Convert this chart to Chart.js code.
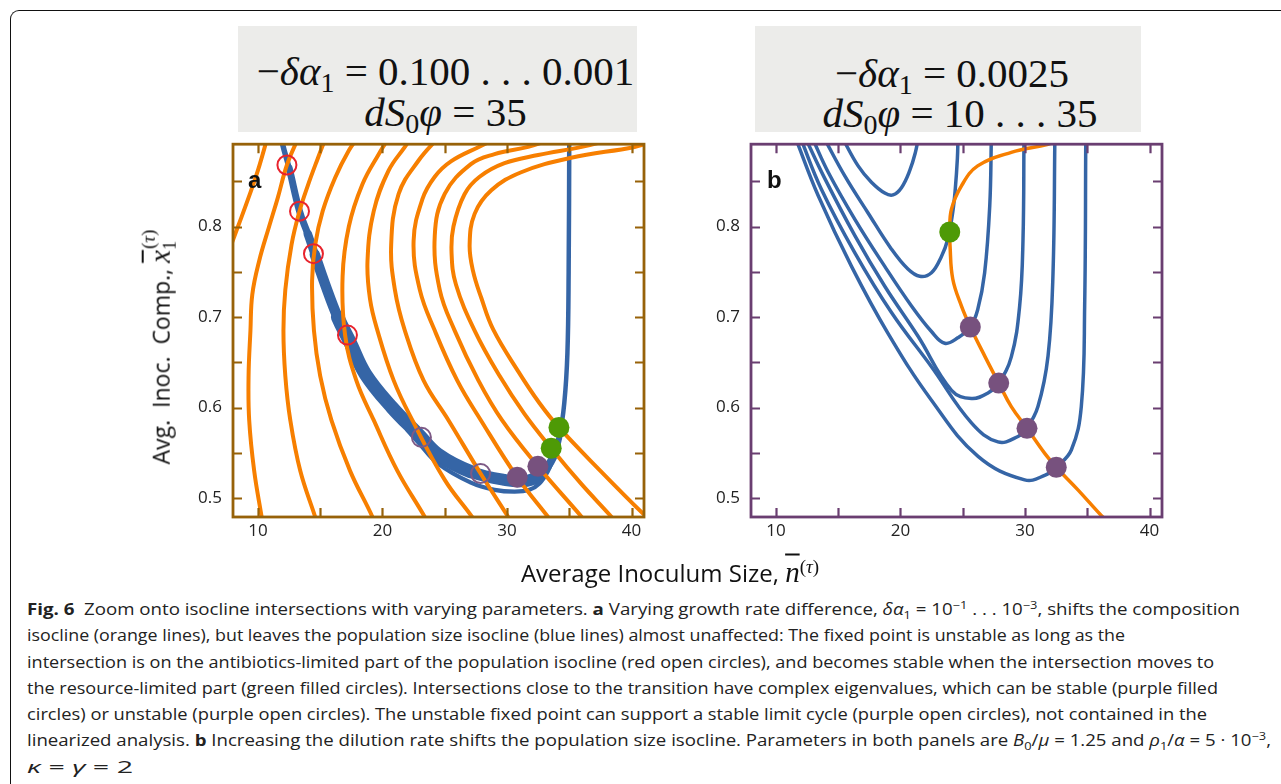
<!DOCTYPE html>
<html>
<head>
<meta charset="utf-8">
<script src="https://cdn.jsdelivr.net/npm/chart.js@4.4.1/dist/chart.umd.min.js"></script>
<style>
  html,body{margin:0;padding:0;background:#fff;}
  body{width:1281px;height:784px;position:relative;overflow:hidden;}
  .outer{position:absolute;left:10px;top:10px;width:1300px;height:800px;border-left:1.3px solid #111;border-top:1.3px solid #111;border-top-left-radius:9px;}
  .tbox{position:absolute;background:#ececea;font-family:"Liberation Serif","DejaVu Serif",serif;color:#111;text-align:center;}
  .tline{position:absolute;left:0;right:0;font-size:41px;line-height:42px;white-space:nowrap;}
  .tline sub{font-size:28px;vertical-align:-7px;line-height:0;}
  .cv{position:absolute;}
  .plab{position:absolute;font-family:"Liberation Sans",Arial,sans-serif;font-weight:bold;font-size:24px;color:#111;}
  .axt{position:absolute;font-family:"Open Sans","Noto Sans",sans-serif;font-size:24px;color:#111;white-space:nowrap;}
  .axt .m{font-family:"Liberation Serif",serif;font-style:italic;font-size:29px;}
  .axt sup{font-family:"Liberation Serif",serif;font-size:19px;}
  .axt sub{font-family:"Liberation Serif",serif;font-size:18px;}
  .cap{position:absolute;left:27px;top:596px;font-family:"Open Sans","Noto Sans",sans-serif;font-size:16px;color:#222;}
  .cap div{height:26.3px;line-height:26.3px;white-space:nowrap;transform-origin:0 50%;}
  .cap sup{font-size:11px;line-height:0;}
  .cap sub{font-size:11px;line-height:0;}
</style>
</head>
<body>
<div class="outer"></div>

<div class="tbox" style="left:238px;top:26px;width:399px;height:106px;">
  <div class="tline" style="top:52px;transform:translate(8px,-50%) translateY(-7px)">−<i>δα</i><sub>1</sub> = 0.100 . . . 0.001</div>
  <div class="tline" style="top:86px;transform:translate(8px,-50%)"><i>dS</i><sub>0</sub><i>φ</i> = 35</div>
</div>
<div class="tbox" style="left:755px;top:26px;width:386px;height:106px;">
  <div class="tline" style="top:54px;transform:translate(4px,-50%) translateY(-7px)">−<i>δα</i><sub>1</sub> = 0.0025</div>
  <div class="tline" style="top:88px;transform:translate(12px,-50%) translateY(-1px)"><i>dS</i><sub>0</sub><i>φ</i> = 10 . . . 35</div>
</div>

<canvas id="cA" class="cv" width="490" height="437" style="left:172px;top:123px;width:490px;height:437px;"></canvas>
<canvas id="cB" class="cv" width="490" height="437" style="left:690px;top:123px;width:490px;height:437px;"></canvas>

<div class="plab" style="left:248px;top:166px;">a</div>
<div class="plab" style="left:767px;top:166px;">b</div>

<div class="axt" id="ytitle" style="left:162px;top:347px;font-size:23px;transform:translate(-50%,-50%) rotate(-90deg);">Avg.&nbsp; Inoc.&nbsp; Comp., <span class="m" style="text-decoration:overline;">x</span><sub>1</sub><sup style="position:relative;top:-6px;margin-left:-8px">(<i>τ</i>)</sup></div>
<div class="axt" style="left:670px;top:572px;transform:translate(-50%,-50%);">Average Inoculum Size, <span class="m" style="text-decoration:overline;">n</span><sup>(<i>τ</i>)</sup></div>

<div class="cap" id="cap">
  <div data-w="1213"><b>Fig. 6</b>&nbsp; Zoom onto isocline intersections with varying parameters. <b>a</b> Varying growth rate difference, <i>δα</i><sub>1</sub> = 10<sup>−1</sup> . . . 10<sup>−3</sup>, shifts the composition</div>
  <div data-w="1098">isocline (orange lines), but leaves the population size isocline (blue lines) almost unaffected: The fixed point is unstable as long as the</div>
  <div data-w="1187">intersection is on the antibiotics-limited part of the population isocline (red open circles), and becomes stable when the intersection moves to</div>
  <div data-w="1191">the resource-limited part (green filled circles). Intersections close to the transition have complex eigenvalues, which can be stable (purple filled</div>
  <div data-w="1180">circles) or unstable (purple open circles). The unstable fixed point can support a stable limit cycle (purple open circles), not contained in the</div>
  <div data-w="1244">linearized analysis. <b>b</b> Increasing the dilution rate shifts the population size isocline. Parameters in both panels are <i>B</i><sub>0</sub>/<i>μ</i> = 1.25 and <i>ρ</i><sub>1</sub>/<i>α</i> = 5 · 10<sup>−3</sup>,</div>
  <div data-w="106"><i>κ</i> = <i>γ</i> = 2</div>
</div>

<script>
// ---------- axes ----------
const xTicks = [10, 15, 20, 25, 30, 35, 40];
const xLabels = [10, 20, 30, 40];
const yTicks = [0.5, 0.55, 0.6, 0.65, 0.7, 0.75, 0.8, 0.85];
const yLabels = [0.5, 0.6, 0.7, 0.8];

// ---------- panel a: composition isoclines (orange), one per growth-rate difference ----------
const orangeA1 = [[10.9,0.905],[10.0,0.862],[9.2,0.83],[8.4,0.80],[7.6,0.77],[7.0,0.745]];
const orangeA2 = [[13.3,0.9],[12.33,0.868],[11.6,0.832],[10.9,0.80],[10.1,0.762],[9.55,0.725],[9.4,0.685],[9.25,0.635],[9.3,0.586],[9.7,0.53],[10.3,0.479],[10.4,0.47]];
const orangeA3 = [[15.5,0.9],[14.8,0.875],[14.0,0.845],[13.34,0.817],[12.7,0.78],[12.2,0.73],[12.05,0.685],[12.2,0.635],[12.6,0.586],[13.4,0.53],[14.6,0.479],[14.8,0.47]];
const orangeA4 = [[18.1,0.9],[17.3,0.884],[16.2,0.854],[15.2,0.817],[14.6,0.78],[14.35,0.74],[14.5,0.685],[15.0,0.635],[15.9,0.586],[17.4,0.53],[19.2,0.479],[19.4,0.47]];
const orangeA5 = [[20.6,0.9],[19.7,0.88],[18.4,0.847],[17.3,0.80],[16.8,0.745],[17.0,0.68],[17.9,0.63],[19.3,0.586],[21.2,0.53],[23.4,0.479],[23.7,0.47]];
const orangeA6 = [[22.4,0.9],[21.8,0.888],[20.5,0.862],[19.3,0.817],[18.8,0.762],[19.0,0.72],[19.6,0.685],[20.9,0.63],[22.4,0.586],[25.0,0.52],[27.2,0.479],[27.6,0.47]];
const orangeA7 = [[24.6,0.9],[22.9,0.873],[21.3,0.836],[20.7,0.78],[21.0,0.73],[21.8,0.685],[23.3,0.63],[25.3,0.586],[27.88,0.527],[30.1,0.479],[30.5,0.47]];
const orangeA8 = [[29.5,0.9],[27.9,0.889],[25.5,0.872],[24.2,0.855],[23.2,0.83],[22.5,0.784],[23.0,0.73],[24.2,0.685],[26.0,0.63],[27.9,0.586],[30.82,0.523],[33.3,0.479],[33.8,0.47]];
const orangeA9 = [[33.5,0.896],[31.7,0.888],[29.0,0.88],[27.1,0.869],[25.0,0.836],[24.2,0.79],[24.6,0.73],[25.8,0.685],[27.7,0.63],[29.6,0.586],[32.48,0.535],[36.0,0.479],[36.5,0.47]];
const orangeA10 = [[38.0,0.895],[36.0,0.888],[32.5,0.879],[29.8,0.87],[27.8,0.855],[26.6,0.836],[25.7,0.80],[25.55,0.77],[25.9,0.736],[27.4,0.685],[29.4,0.635],[31.4,0.593],[33.55,0.555],[36.0,0.515],[38.4,0.479],[38.9,0.47]];
const orangeA11 = [[42.0,0.895],[40.24,0.888],[35.15,0.876],[31.14,0.86],[28.74,0.84],[27.4,0.814],[27.0,0.78],[27.27,0.751],[27.94,0.721],[28.9,0.686],[30.9,0.64],[32.6,0.605],[34.17,0.578],[37.5,0.53],[40.9,0.483],[41.6,0.475]];

// ---------- panel a: population size isocline (blue band + separated lowest curve) ----------
const blueBandA = [[11.9,0.9],[12.0,0.89],[12.5,0.865],[13.34,0.817],[14.0,0.792],[14.57,0.769],[15.4,0.736],[16.4,0.70],[17.4,0.672],[18.63,0.637],[20.77,0.600],[22.9,0.570],[24.46,0.548],[27.1,0.529],[29.8,0.520],[31.6,0.519],[32.8,0.527],[33.7,0.545],[34.2,0.567],[34.6,0.605],[34.85,0.66],[34.95,0.75],[35.0,0.9]];
const blueLowA = [[22.0,0.575],[22.9,0.561],[24.46,0.538],[27.1,0.517],[29.0,0.509],[30.6,0.507],[31.8,0.509],[32.6,0.516],[33.3,0.53],[33.75,0.545]];

// ---------- panel a: fixed points ----------
const redOpenA = [[12.33,0.868],[13.34,0.817],[14.46,0.770],[17.19,0.680]];
const purpleOpenA = [[23.13,0.567],[27.88,0.527]];
const purpleFilledA = [[30.82,0.523],[32.48,0.535]];
const greenA = [[33.55,0.555],[34.17,0.578]];

// ---------- panel b ----------
const orangeB = [[33.0,0.897],[31.85,0.891],[28.9,0.882],[26.2,0.867],[24.9,0.845],[24.09,0.819],[23.96,0.795],[23.98,0.779],[24.2,0.742],[24.9,0.712],[25.61,0.689],[26.8,0.656],[27.89,0.627],[28.9,0.601],[30.16,0.577],[31.6,0.549],[32.51,0.534],[34.25,0.509],[36.1,0.481],[36.5,0.476]];
const blueB1 = [[15.3,0.899],[16.6,0.867],[17.67,0.849],[18.74,0.837],[19.4,0.835],[20.08,0.843],[20.75,0.862],[21.2,0.882],[21.45,0.899]];
const blueB2 = [[13.9,0.897],[15.53,0.856],[17.4,0.815],[19.28,0.775],[20.6,0.753],[21.55,0.745],[22.49,0.749],[23.29,0.767],[23.8,0.786],[24.2,0.816],[24.4,0.841],[24.57,0.875],[24.62,0.899]];
const blueB3 = [[12.95,0.897],[14.2,0.86],[16.34,0.808],[18.74,0.756],[20.9,0.712],[22.49,0.684],[23.56,0.671],[24.6,0.677],[25.61,0.689],[26.2,0.708],[26.76,0.749],[27.17,0.823],[27.3,0.899]];
const blueB4 = [[12.4,0.897],[13.93,0.853],[16.34,0.79],[18.74,0.734],[21.4,0.679],[24.1,0.619],[25.7,0.61],[27.03,0.616],[27.89,0.627],[28.9,0.656],[29.57,0.712],[29.84,0.786],[29.92,0.899]];
const blueB5 = [[12.0,0.897],[13.66,0.841],[16.34,0.771],[19.28,0.705],[22.49,0.645],[25.7,0.583],[27.83,0.562],[29.44,0.568],[30.16,0.577],[31.04,0.601],[31.85,0.657],[32.25,0.749],[32.4,0.899]];
const blueB6 = [[11.6,0.897],[13.4,0.834],[16.07,0.756],[19.0,0.682],[22.49,0.608],[26.23,0.546],[29.97,0.52],[31.58,0.525],[32.51,0.534],[33.72,0.553],[34.52,0.601],[34.79,0.712],[34.88,0.899]];
const greenB = [[23.96,0.794]];
const purpleFilledB = [[25.61,0.689],[27.89,0.627],[30.16,0.577],[32.51,0.534]];

// ---------- styling ----------
const BLUE = '#3565a6', ORANGE = '#f77f00', GREEN = '#4e9a06', PURPLE = '#77517e', PURPLE_LINE = '#7d5a86', RED = '#e8232d';
const pts = arr => arr.map(p => ({x: p[0], y: p[1]}));
const curve = (arr, color, w, order) => ({data: pts(arr), showLine: true, borderColor: color, borderWidth: w, pointRadius: 0, tension: 0.4, fill: false, clip: 0, order, borderCapStyle: 'round', borderJoinStyle: 'round'});
const dots = (arr, fillC, strokeC, r, bw) => ({data: pts(arr), showLine: false, pointRadius: r, pointHoverRadius: r, pointBackgroundColor: fillC, pointBorderColor: strokeC, pointBorderWidth: bw, order: 0, clip: false});

function bandWidth(x, y) {
  if (x > 34.3) return 4.5;
  if (x > 33.6) return 6;
  if (x > 32.5) return 8;
  if (y > 0.85) return 5.5;
  if (y > 0.80) return 7;
  if (y > 0.76) return 8.5;
  if (y > 0.70) return 10.5;
  if (x < 27) return 13.5;
  return 12;
}

const framePlugin = {
  id: 'frame',
  afterDraw(chart, args, opts) {
    const {ctx, chartArea: a, scales: {x, y}} = chart;
    ctx.save();
    ctx.strokeStyle = opts.color;
    ctx.lineWidth = 2.2;
    const L = 9;
    ctx.beginPath();
    xTicks.forEach(v => {
      const px = Math.round(x.getPixelForValue(v)) + 0.5;
      ctx.moveTo(px, a.bottom); ctx.lineTo(px, a.bottom - L);
      ctx.moveTo(px, a.top); ctx.lineTo(px, a.top + L);
    });
    yTicks.forEach(v => {
      const py = Math.round(y.getPixelForValue(v)) + 0.5;
      ctx.moveTo(a.left, py); ctx.lineTo(a.left + L, py);
      ctx.moveTo(a.right, py); ctx.lineTo(a.right - L, py);
    });
    ctx.stroke();
    ctx.lineWidth = 2.8;
    ctx.strokeRect(a.left, a.top, a.right - a.left, a.bottom - a.top);
    ctx.restore();
  }
};

function makeOptions(frameColor) {
  return {
    responsive: false,
    animation: false,
    devicePixelRatio: 1,
    layout: {autoPadding: false, padding: {top: 10, right: 18, left: 0, bottom: 0}},
    plugins: {legend: {display: false}, tooltip: {enabled: false}, frame: {color: frameColor}},
    scales: {
      x: {
        type: 'linear', min: 8, max: 41,
        afterBuildTicks: s => { s.ticks = xTicks.map(v => ({value: v})); },
        afterFit: s => { s.height = 43; },
        grid: {display: false, drawTicks: false}, border: {display: false},
        ticks: {padding: 4, color: '#222', font: {family: '"Open Sans","Noto Sans",sans-serif', size: 17}, maxRotation: 0, autoSkip: false,
          callback: v => xLabels.includes(v) ? String(v) : ''}
      },
      y: {
        type: 'linear', min: 0.479, max: 0.891,
        afterBuildTicks: s => { s.ticks = yTicks.map(v => ({value: v})); },
        afterFit: s => { s.width = 61; },
        grid: {display: false, drawTicks: false}, border: {display: false},
        ticks: {padding: 11, color: '#222', font: {family: '"Open Sans","Noto Sans",sans-serif', size: 17}, autoSkip: false,
          callback: v => yLabels.some(l => Math.abs(l - v) < 1e-9) ? v.toFixed(1) : ''}
      }
    }
  };
}

const orangeSetsA = [orangeA1, orangeA2, orangeA3, orangeA4, orangeA5, orangeA6, orangeA7, orangeA8, orangeA9, orangeA10, orangeA11];
const band = curve(blueBandA, BLUE, 10, 3);
band.segment = {borderWidth: c => bandWidth((c.p0.parsed.x + c.p1.parsed.x) / 2, (c.p0.parsed.y + c.p1.parsed.y) / 2)};

new Chart(document.getElementById('cA'), {
  type: 'scatter',
  data: {datasets: [
    dots(greenA, GREEN, GREEN, 10.5, 0),
    dots(purpleFilledA, PURPLE, PURPLE, 10.5, 0),
    dots(purpleOpenA, 'rgba(0,0,0,0)', PURPLE_LINE, 9.5, 2),
    dots(redOpenA, 'rgba(0,0,0,0)', RED, 9.5, 2),
    ...orangeSetsA.map(a => curve(a, ORANGE, 4, 1)),
    curve(blueLowA, BLUE, 4.2, 2),
    band
  ]},
  options: makeOptions('#976209'),
  plugins: [framePlugin]
});

const blueSetsB = [blueB1, blueB2, blueB3, blueB4, blueB5, blueB6];
new Chart(document.getElementById('cB'), {
  type: 'scatter',
  data: {datasets: [
    dots(greenB, GREEN, GREEN, 10.5, 0),
    dots(purpleFilledB, PURPLE, PURPLE, 10.5, 0),
    curve(orangeB, ORANGE, 3.5, 1),
    ...blueSetsB.map(a => curve(a, BLUE, 3.5, 2))
  ]},
  options: makeOptions('#6a3e71'),
  plugins: [framePlugin]
});

// fit caption lines to the reference line lengths
document.querySelectorAll('#cap div').forEach(d => {
  d.style.display = 'inline-block';
  const w = d.getBoundingClientRect().width;
  d.style.display = 'block';
  const target = +d.dataset.w;
  d.style.transform = 'scaleX(' + (target / w).toFixed(4) + ')';
});
</script>
</body>
</html>
